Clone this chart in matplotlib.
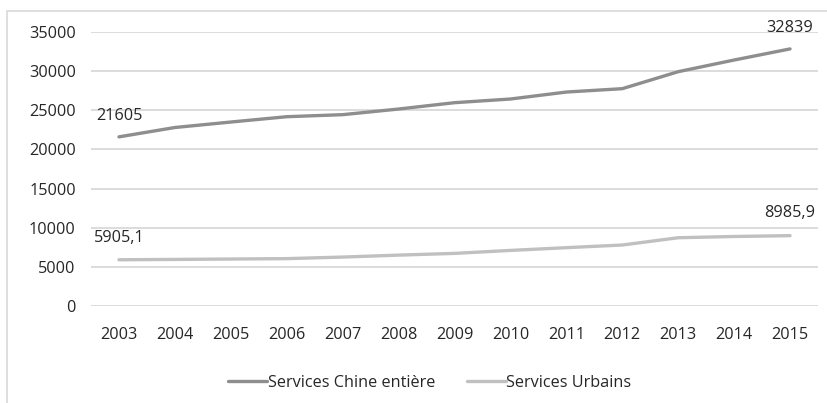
import numpy as np
import matplotlib.pyplot as plt
from matplotlib.patches import Rectangle

plt.rcParams['font.family'] = ['Open Sans', 'DejaVu Sans']

years = [2003, 2004, 2005, 2006, 2007, 2008, 2009, 2010, 2011, 2012, 2013, 2014, 2015]
chine = [21605, 22800, 23500, 24180, 24440, 25160, 25970, 26440, 27330, 27760, 29930, 31420, 32839]
urbains = [5905.1, 5950, 6000, 6050, 6250, 6500, 6720, 7100, 7450, 7790, 8720, 8880, 8985.9]
labels_chine = ['21605', '32839']
labels_urbains = ['5905,1', '8985,9']

fig = plt.figure(figsize=(8.28, 4.03), dpi=100)
fig.patches.append(Rectangle((7/828, -0.1), 1.2, 1 - 11/403 + 0.1, transform=fig.transFigure,
                             fill=False, edgecolor='#d9d9d9', linewidth=1.2))
ax = fig.add_axes([91/828, 1 - 306/403, 727/828, 274/403])

x = np.arange(len(years))
ax.plot(x, chine, color='#8e8e8e', lw=2.4, solid_capstyle='round', label='Services Chine entière', zorder=3)
ax.plot(x, urbains, color='#c0c0c0', lw=2.4, solid_capstyle='round', label='Services Urbains', zorder=3)

fs = 11.7
for i, t in zip([0, -1], labels_chine):
    ax.annotate(t, (x[i], chine[i]), xytext=(0, 15), textcoords='offset points',
                ha='center', va='center', fontsize=fs, color='#262626')
for i, t in zip([0, -1], labels_urbains):
    ax.annotate(t, (x[i], urbains[i]), xytext=(0, 16), textcoords='offset points',
                ha='center', va='center', fontsize=fs, color='#262626')

ax.set_xlim(-0.5, len(years) - 0.5)
ax.set_ylim(0, 35000)
ax.set_yticks(range(0, 35001, 5000))
ax.set_xticks(x)
ax.set_xticklabels([str(y) for y in years])
ax.grid(axis='y', color='#d9d9d9', lw=1.3)
ax.set_axisbelow(True)
for s in ax.spines.values():
    s.set_visible(False)
ax.tick_params(length=0, labelsize=fs, labelcolor='#262626')
ax.tick_params(axis='y', pad=11)
ax.tick_params(axis='x', pad=15)

fig.legend(loc='center', bbox_to_anchor=(430/828, 1 - 383/403), ncol=2, frameon=False,
           fontsize=fs, handlelength=2.4, handletextpad=0.05, columnspacing=1.9,
           labelcolor='#262626')

fig.savefig('out.png', dpi=100)
